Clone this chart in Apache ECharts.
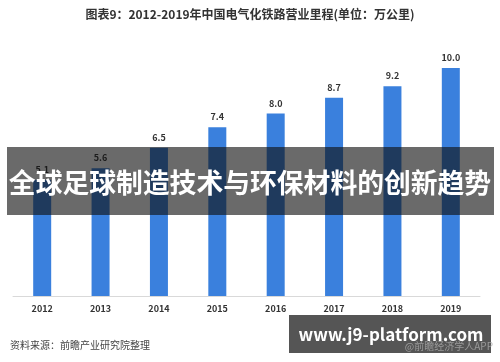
<!DOCTYPE html>
<html><head><meta charset="utf-8">
<script src="https://cdn.jsdelivr.net/npm/echarts@6/dist/echarts.min.js"></script>
<style>html,body{margin:0;padding:0;background:#fff}#c{width:500px;height:362px}</style>
</head><body><div id="c"></div>
<script>
const years = ['2012','2013','2014','2015','2016','2017','2018','2019'];
const mileage = [5.1, 5.6, 6.5, 7.4, 8.0, 8.7, 9.2, 10.0];
const titleText = '图表9：2012-2019年中国电气化铁路营业里程(单位：万公里)';
const sourceText = '资料来源：前瞻产业研究院整理';
const bannerText = '全球足球制造技术与环保材料的创新趋势';
const badgeText = 'www.j9-platform.com';
const creditText = '@前瞻经济学人APP';

const FONT = '"Noto Sans CJK SC", "Noto Sans", sans-serif';
const chart = echarts.init(document.getElementById('c'), null, {renderer:'canvas'});
chart.setOption({
  animation:false,
  backgroundColor:'#fff',
  grid:{left:13, right:20, top:68, bottom:66},
  xAxis:{type:'category', data:years,
    axisLine:{lineStyle:{color:'#d9d9d9'}}, axisTick:{show:false},
    axisLabel:{color:'#333', fontSize:9, fontWeight:'bold', fontFamily:FONT, margin:8}},
  yAxis:{type:'value', min:0, max:10, show:false, splitLine:{show:false}},
  series:[{type:'bar', data:mileage, barWidth:18,
    itemStyle:{color:'#3a80dd'},
    label:{show:true, position:'top', color:'#333', fontSize:9, fontWeight:'bold', fontFamily:FONT,
      formatter:p=>p.value.toFixed(1), distance:6}}],
  graphic:[
    {type:'text', left:'center', top:8, z:10, style:{text:titleText, fill:'#333', font:'bold 12px '+FONT}},
    {type:'text', left:10, top:340, z:10, style:{text:sourceText, fill:'#444', font:'10px '+FONT}},
    {type:'rect', shape:{x:7, y:147, width:487, height:68}, z:20, style:{fill:'rgba(15,15,15,0.62)'}},
    {type:'text', x:250, y:183, z:21, style:{text:bannerText, fill:'#fff', font:'bold 26.8px '+FONT, align:'center', verticalAlign:'middle'}},
    {type:'rect', shape:{x:289, y:315, width:202, height:38}, z:20, style:{fill:'rgba(70,70,70,0.92)'}},
    {type:'text', x:391, y:335, z:21, style:{text:badgeText, fill:'#fff', font:'bold 17px '+FONT, align:'center', verticalAlign:'middle'}},
    {type:'text', right:7, top:341, z:22, style:{text:creditText, fill:'rgba(170,170,170,0.8)', font:'10px '+FONT}}
  ]
});
</script></body></html>
